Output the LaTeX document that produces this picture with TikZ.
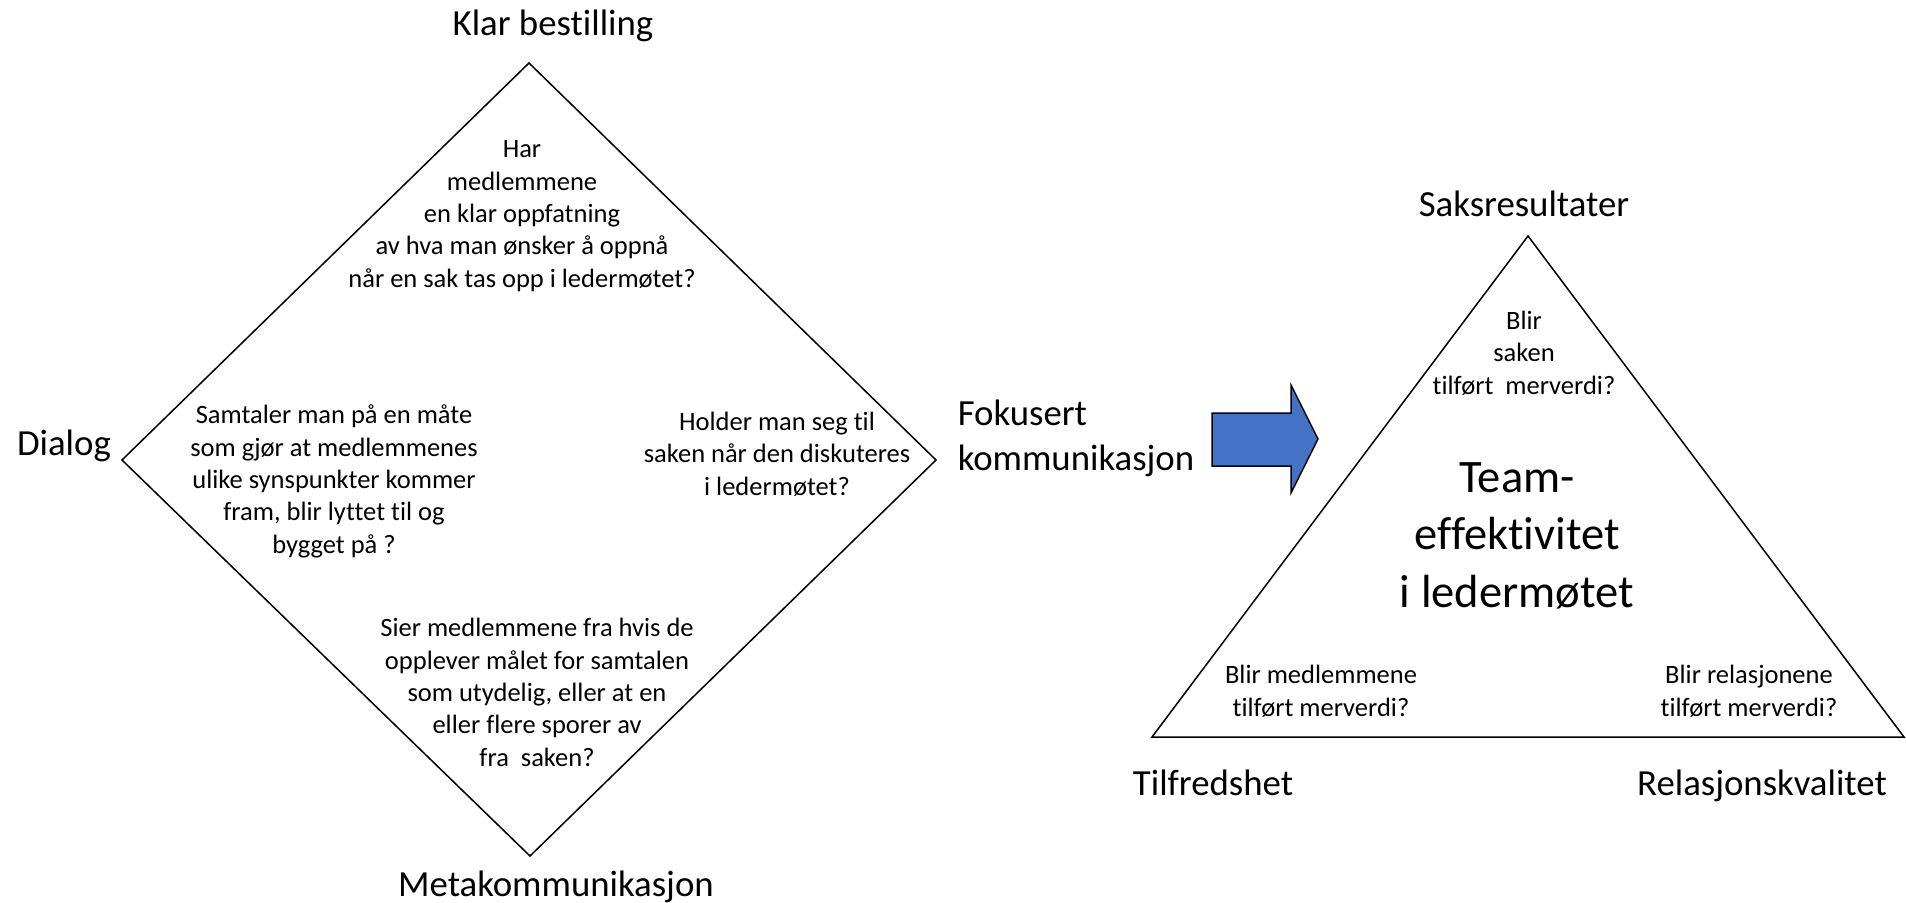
\documentclass[tikz,border=0pt]{standalone}
\usepackage{fontspec}
\setmainfont{Carlito}[Ligatures=NoCommon]
\definecolor{arrowblue}{HTML}{4472C4}

\begin{document}
\begin{tikzpicture}[x=0.5pt, y=-0.5pt, line width=0.75pt,
	lbl/.style={font=\fontsize{18.4}{22.4}\selectfont, inner sep=0pt, anchor=base, align=center},
	qtext/.style={font=\fontsize{13.25}{16.15}\selectfont, inner sep=0pt, anchor=base, align=center}]

\useasboundingbox (0,0) rectangle (1906,902);

\coordinate (dtop) at (529,63);
\coordinate (dleft) at (122,460);
\coordinate (dbot) at (530,856);
\coordinate (dright) at (936,460);
\draw (dtop) -- (dright) -- (dbot) -- (dleft) -- cycle;

\coordinate (tapex) at (1528,236);
\coordinate (tleft) at (1152,737);
\coordinate (tright) at (1904,737);
\draw (tapex) -- (tright) -- (tleft) -- cycle;

\draw[fill=arrowblue, line join=miter] (1212,413) -- (1291,413) -- (1291,385) -- (1318,439)
	-- (1291,493) -- (1291,466) -- (1212,466) -- cycle;

\node[lbl] (klar) at (553,35) {Klar bestilling};
\node[lbl] (dialog) at (64,455) {Dialog};
\node[lbl] (meta) at (556,896) {Metakommunikasjon};
\node[lbl, anchor=base west, align=left] (fokus) at (957,470) {Fokusert\\kommunikasjon};
\node[lbl] (saks) at (1524,216) {Saksresultater};
\node[lbl] (tilfreds) at (1213,795) {Tilfredshet};
\node[lbl] (relasjon) at (1762,795) {Relasjonskvalitet};

\node[qtext] (qtop) at (522,287) {Har\\medlemmene\\en klar oppfatning\\av hva man ønsker å oppnå\\når en sak tas opp i ledermøtet?};
\node[qtext] (qleft) at (334,553) {Samtaler man på en måte\\som gjør at medlemmenes\\ulike synspunkter kommer\\fram, blir lyttet til og\\bygget på ?};
\node[qtext] (qright) at (777,495) {Holder man seg til\\saken når den diskuteres\\i ledermøtet?};
\node[qtext] (qbot) at (537,766) {Sier medlemmene fra hvis de\\opplever målet for samtalen\\som utydelig, eller at en\\eller flere sporer av\\fra~~saken?};

\node[qtext] (saken) at (1524,394) {Blir\\saken\\tilført~~merverdi?};
\node[qtext] (medlem) at (1321,716) {Blir medlemmene\\tilført merverdi?};
\node[qtext] (relasj) at (1749,716) {Blir relasjonene\\tilført merverdi?};
\node[qtext, font=\fontsize{23.25}{28.75}\selectfont] (team) at (1517,607) {Team-\\effektivitet\\i ledermøtet};

\end{tikzpicture}
\end{document}
